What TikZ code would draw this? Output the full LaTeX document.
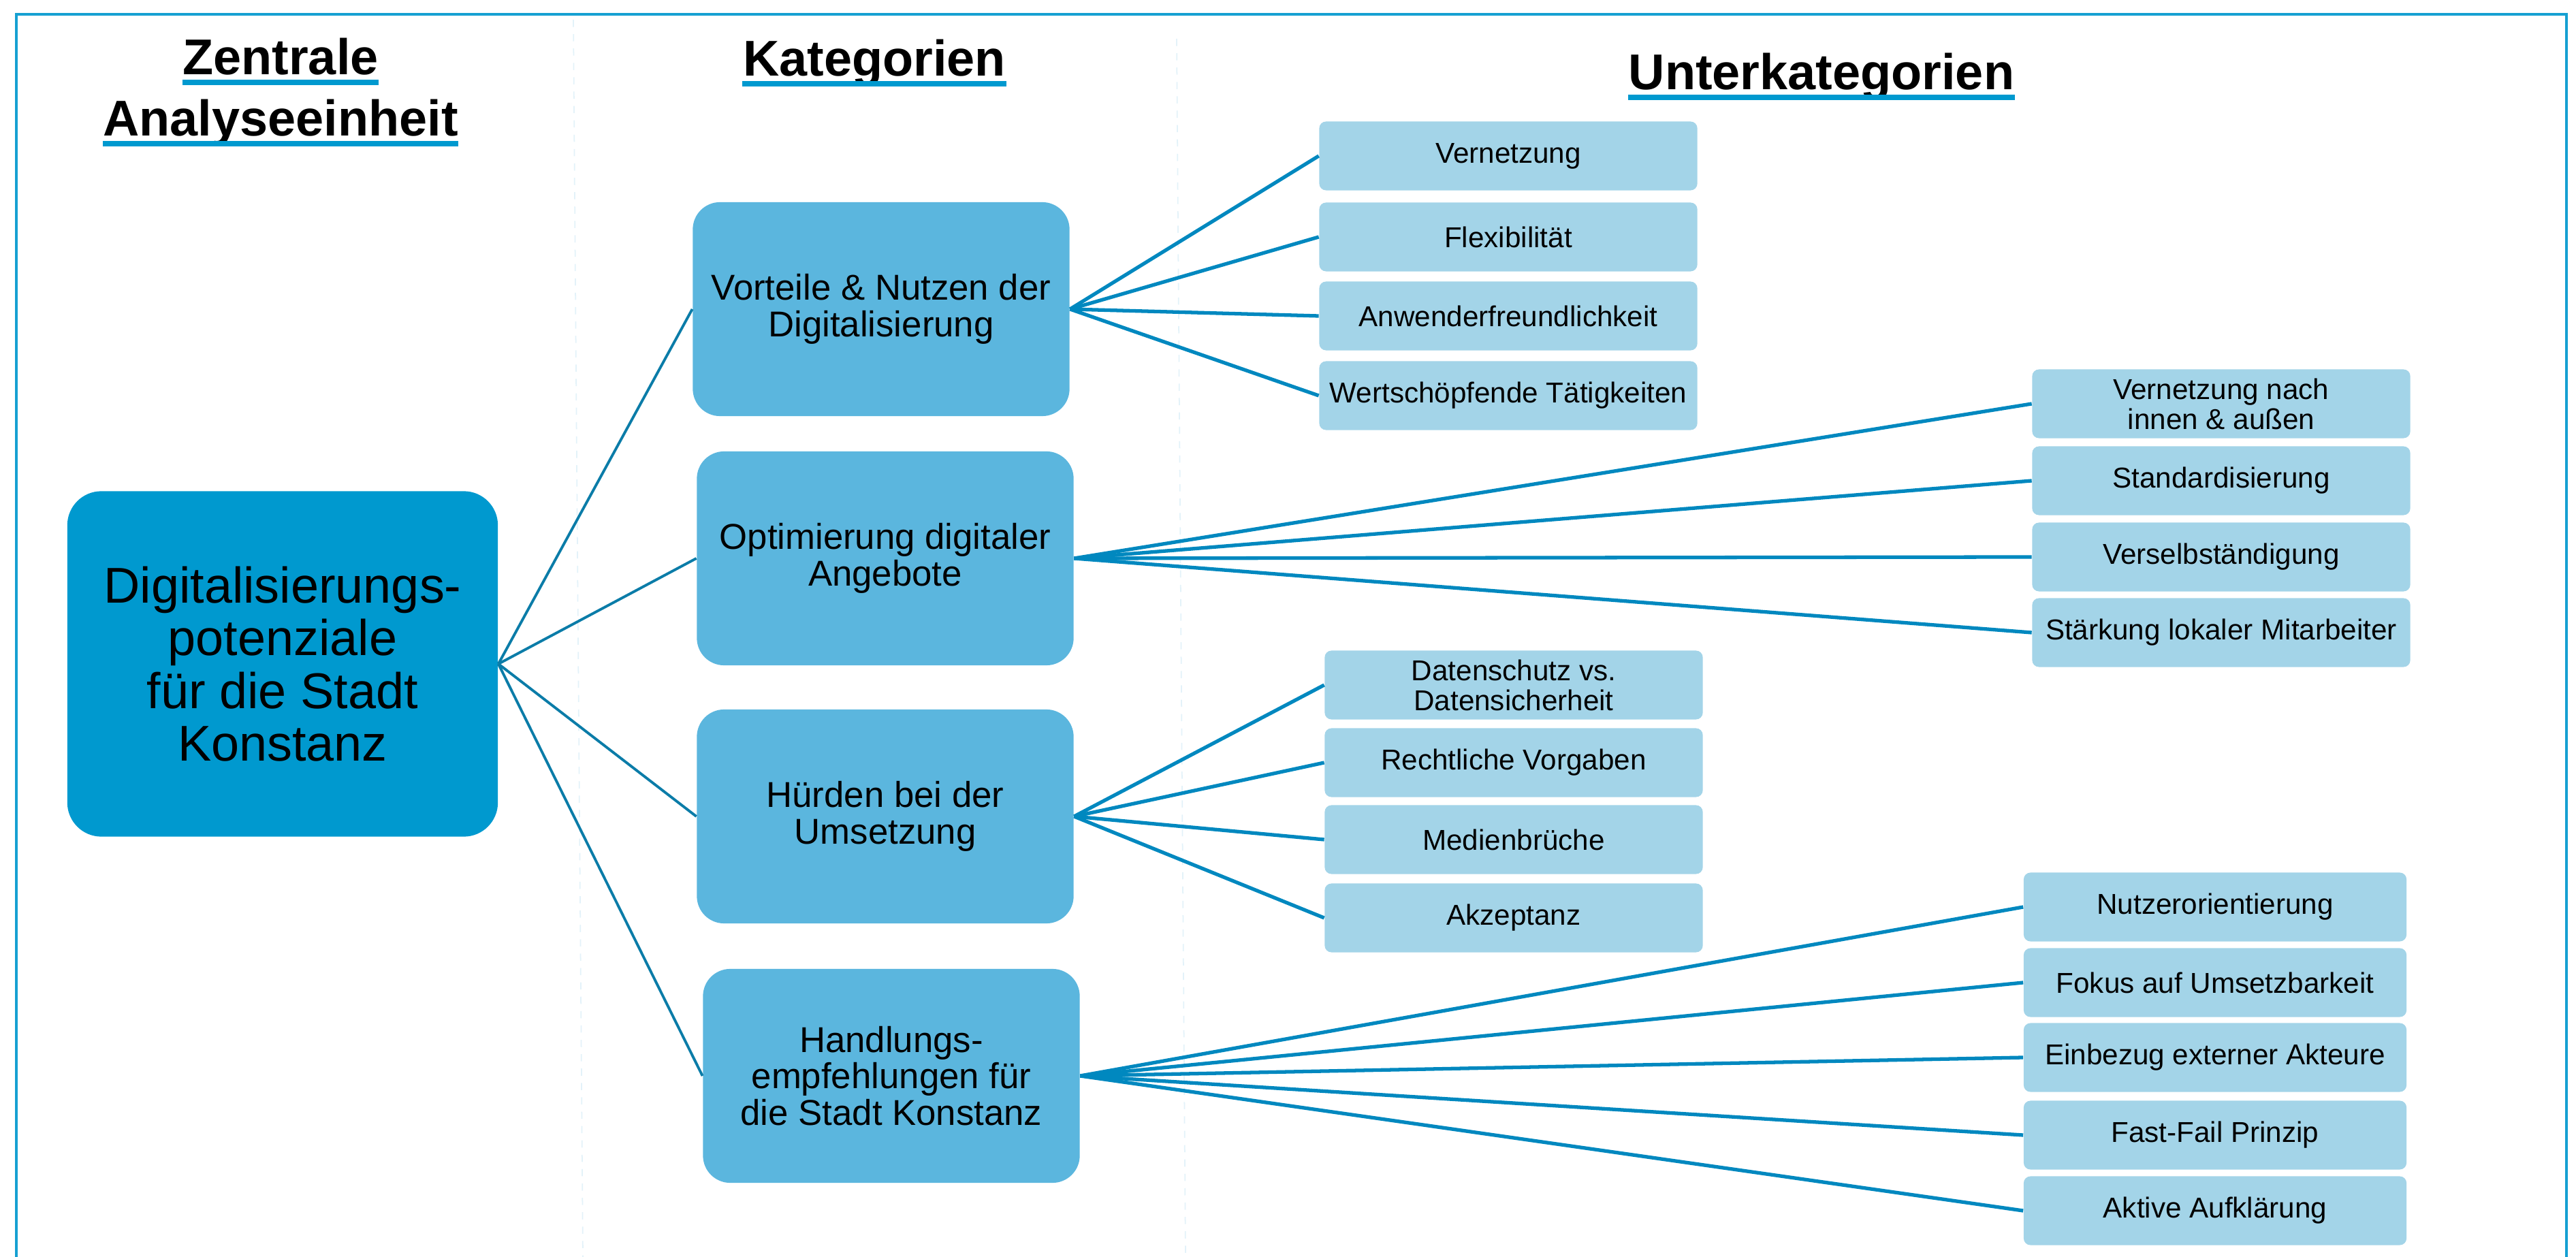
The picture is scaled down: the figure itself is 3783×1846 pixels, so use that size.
\documentclass[tikz,border=0pt]{standalone}
\usepackage{fontspec}
\setmainfont{Liberation Sans}
\usetikzlibrary{calc}
\definecolor{mainblue}{HTML}{0099CF}
\definecolor{catblue}{HTML}{5BB6DE}
\definecolor{subblue}{HTML}{A3D4E8}
\definecolor{linkblue}{HTML}{0088BF}
\definecolor{rootlink}{HTML}{0B7CA8}
\definecolor{framecol}{HTML}{16A0D2}
\definecolor{sepcol}{HTML}{E3F2F9}

\begin{document}
\begin{tikzpicture}[x=0.01cm, y=-0.01cm,
    mainbox/.style={fill=mainblue, rounded corners=0.5cm, minimum width=6.32cm, minimum height=5.07cm,
      inner sep=0pt, align=center, font=\fontsize{21}{22}\selectfont},
    catbox/.style={fill=catblue, rounded corners=0.4cm, minimum width=5.53cm, minimum height=3.14cm,
      inner sep=0pt, align=center, font=\fontsize{15}{15.2}\selectfont},
    subbox/.style={fill=subblue, rounded corners=0.1cm, minimum width=5.55cm, minimum height=1.01cm,
      inner sep=0pt, align=center, font=\fontsize{12}{12.5}\selectfont},
    hdr/.style={anchor=base, inner sep=0pt, font=\bfseries\fontsize{21}{25}\selectfont},
    rootline/.style={rootlink, line width=1.1pt},
    subline/.style={linkblue, line width=1.5pt}]

    \useasboundingbox (0,0) rectangle (3783,1846);
    % frame and column separators
    \draw[framecol, line width=1pt] (24,1846) -- (24,21) -- (3769,21) -- (3769,1846);
    \draw[sepcol, dashed, line width=0.5pt] (842,29) -- (856,1846);
    \draw[sepcol, dashed, line width=0.5pt] (1728,57) -- (1741,1846);

    % column headings
    \node[hdr] (hzen) at (412,110) {Zentrale};
    \node[hdr] (hana) at (412,200) {Analyseeinheit};
    \node[hdr] (hkat) at (1284,112) {Kategorien};
    \node[hdr] (hunt) at (2675,132) {Unterkategorien};
    \foreach \h in {hzen,hana,hkat,hunt}
        \fill[mainblue] ($(\h.base west)+(0,7)$) rectangle ($(\h.base east)+(0,15)$);

    % analysis unit and categories
    \node[mainbox] (root) at (415,975) {Digitalisierungs-\\potenziale\\für die Stadt\\Konstanz};
    \node[catbox] (vort) at (1294,454) {Vorteile \& Nutzen der\\Digitalisierung};
    \node[catbox] (opti) at (1300,820) {Optimierung digitaler\\Angebote};
    \node[catbox] (huer) at (1300,1199) {Hürden bei der\\Umsetzung};
    \node[catbox] (hand) at (1309,1580) {Handlungs-\\empfehlungen für\\die Stadt Konstanz};
    \foreach \c in {vort,opti,huer,hand}
        \draw[rootline] (root.east) -- (\c.west);

    % subcategories
    \foreach \n/\y/\t in {va/229/Vernetzung, vb/348/Flexibilität, vc/464/Anwenderfreundlichkeit,
        vd/581/{Wertschöpfende Tätigkeiten}} {
        \node[subbox] (\n) at (2215,\y) {\t};
        \draw[subline] (vort.east) -- (\n.west);
    }
    \foreach \n/\y/\t in {oa/593/{Vernetzung nach\\innen \& außen}, ob/706/Standardisierung,
        oc/818/Verselbständigung, od/929/{Stärkung lokaler Mitarbeiter}} {
        \node[subbox] (\n) at (3262,\y) {\t};
        \draw[subline] (opti.east) -- (\n.west);
    }
    \foreach \n/\y/\t in {ha/1006/{Datenschutz vs.\\Datensicherheit}, hb/1120/{Rechtliche Vorgaben},
        hc/1233/Medienbrüche, hd/1348/Akzeptanz} {
        \node[subbox] (\n) at (2223,\y) {\t};
        \draw[subline] (huer.east) -- (\n.west);
    }
    \foreach \n/\y/\t in {ea/1332/Nutzerorientierung, eb/1443/{Fokus auf Umsetzbarkeit},
        ec/1553/{Einbezug externer Akteure}, ed/1667/{Fast-Fail Prinzip}, ee/1778/{Aktive Aufklärung}} {
        \node[subbox, minimum width=5.62cm] (\n) at (3253,\y) {\t};
        \draw[subline] (hand.east) -- (\n.west);
    }
\end{tikzpicture}
\end{document}
